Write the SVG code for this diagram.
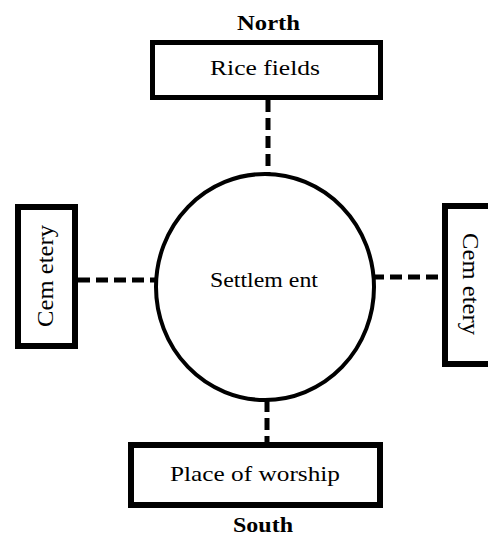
<svg xmlns="http://www.w3.org/2000/svg" width="488" height="536" viewBox="0 0 488 536">
<style>
.box{fill:#fff;stroke:#000;stroke-width:6}
.lbl{font-family:"Liberation Serif","Times New Roman",serif;font-size:22px;fill:#000}
.dir{font-family:"Liberation Serif","Times New Roman",serif;font-size:20px;font-weight:bold;fill:#000}
.con{stroke:#000;stroke-width:5;stroke-dasharray:12 6;fill:none}
</style>
<rect width="488" height="536" fill="#fff"/>
<g id="connectors">
<line class="con" x1="268" y1="100" x2="268" y2="174"/>
<line class="con" x1="267" y1="400" x2="267" y2="442"/>
<line class="con" x1="78" y1="280" x2="158" y2="280"/>
<line class="con" x1="372" y1="277" x2="442" y2="277"/>
</g>
<g id="north"><text class="dir" x="237" y="30" textLength="63" lengthAdjust="spacingAndGlyphs">North</text></g>
<g id="rice-fields">
<rect class="box" x="152.5" y="42.5" width="228" height="55" style="stroke-width:5"/>
<text class="lbl" x="210" y="75" textLength="110" lengthAdjust="spacingAndGlyphs">Rice fields</text>
</g>
<g id="settlement">
<ellipse cx="265" cy="287" rx="109" ry="113" fill="#fff" stroke="#000" stroke-width="4"/>
<text class="lbl" x="210" y="287" textLength="108" lengthAdjust="spacingAndGlyphs">Settlem ent</text>
</g>
<g id="cemetery-west">
<rect class="box" x="18" y="207" width="57" height="139"/>
<text class="lbl" transform="translate(53,327) rotate(-90)" style="font-size:24px" textLength="102" lengthAdjust="spacingAndGlyphs">Cem etery</text>
</g>
<g id="cemetery-east">
<rect class="box" x="445" y="206" width="50" height="158"/>
<text class="lbl" transform="translate(463,233) rotate(90)" style="font-size:24px" textLength="102" lengthAdjust="spacingAndGlyphs">Cem etery</text>
</g>
<g id="place-of-worship">
<rect class="box" x="131" y="445" width="249" height="60"/>
<text class="lbl" x="170" y="481" textLength="170" lengthAdjust="spacingAndGlyphs">Place of worship</text>
</g>
<g id="south"><text class="dir" x="233" y="532" textLength="60" lengthAdjust="spacingAndGlyphs">South</text></g>
</svg>
